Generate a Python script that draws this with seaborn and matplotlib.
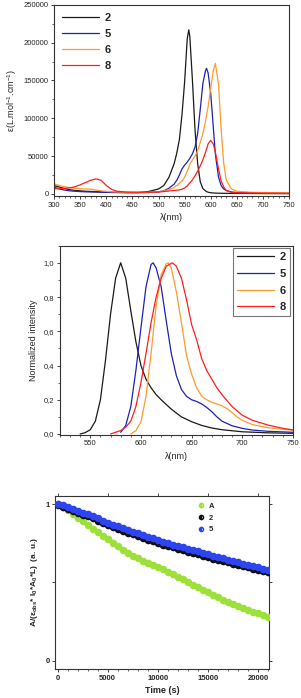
import numpy as np
import matplotlib
matplotlib.use('Agg')
import matplotlib.pyplot as plt
from matplotlib.ticker import MultipleLocator, FixedLocator
import seaborn as sns

# absorption spectra (top)
wl_abs = [300, 310, 320, 330, 340, 350, 360, 370, 380, 390, 400, 410, 420, 440, 460, 480,
          500, 510, 520, 530, 535, 540, 545, 550, 555, 558, 560, 565, 570, 575, 580, 585,
          590, 592, 595, 600, 605, 609, 615, 620, 625, 630, 640, 650, 675, 700, 750]
eps_2 = [11000, 9000, 7000, 5500, 4500, 4000, 3500, 3200, 3000, 2700, 2500, 2300, 2100, 1800, 1800, 3000,
         6500, 11000, 22000, 40000, 54000, 72000, 105000, 148000, 205000, 217000, 208000, 150000, 84000, 40000, 16000, 7000,
         4000, 3000, 2200, 1500, 1200, 1000, 900, 800, 700, 700, 600, 600, 500, 400, 300]
eps_5 = [8800, 6500, 5000, 4000, 3500, 3000, 2700, 2500, 2300, 2100, 2000, 1800, 1700, 1500, 1500, 1800,
         2500, 4000, 7500, 13000, 18000, 25000, 33000, 38000, 42000, 45000, 47000, 53000, 62000, 80000, 112000, 146000,
         163000, 166000, 160000, 133000, 88000, 52000, 22000, 11000, 6500, 4400, 2500, 1800, 1200, 900, 600]
eps_6 = [13300, 11000, 9500, 8200, 7300, 6800, 6500, 6200, 5000, 4000, 3300, 2800, 2500, 2200, 2000, 2000,
         2800, 3800, 5500, 8500, 11000, 14000, 17000, 22000, 30000, 35000, 39000, 45000, 50000, 57000, 68000, 80000,
         96000, 104000, 115000, 140000, 163000, 172500, 145000, 85000, 40000, 18000, 6500, 3500, 2200, 1800, 1200]
eps_8 = [6600, 7000, 7300, 8000, 9500, 12000, 15000, 18000, 19800, 18000, 11000, 6000, 3500, 2300, 2100, 2100,
         2500, 3000, 3800, 4500, 4900, 5200, 6200, 7800, 10500, 13000, 14500, 18500, 24000, 30000, 37000, 45000,
         55000, 59000, 66000, 70700, 66000, 55000, 33000, 17000, 9000, 4500, 2000, 1500, 1200, 1000, 800]

# emission spectra (middle)
wl_em_2 = [540, 545, 550, 555, 560, 565, 570, 575, 580, 585, 590, 595, 600, 605, 610, 615, 620,
           630, 640, 650, 660, 670, 680, 700, 725, 750]
em_2 = [0.0, 0.008, 0.025, 0.075, 0.20, 0.43, 0.70, 0.91, 1.0, 0.91, 0.72, 0.54, 0.40, 0.32, 0.27, 0.23, 0.20,
        0.145, 0.10, 0.072, 0.05, 0.035, 0.025, 0.013, 0.007, 0.004]
wl_em_5 = [580, 585, 590, 595, 600, 605, 610, 612, 615, 620, 625, 630, 635, 640, 645, 650, 655, 660,
           665, 670, 675, 680, 690, 700, 710, 725, 750]
em_5 = [0.01, 0.05, 0.16, 0.37, 0.62, 0.86, 0.99, 1.0, 0.97, 0.86, 0.66, 0.47, 0.34, 0.26, 0.22, 0.20, 0.19, 0.175,
        0.155, 0.13, 0.10, 0.075, 0.048, 0.033, 0.023, 0.016, 0.01]
wl_em_6 = [590, 595, 600, 605, 610, 615, 620, 625, 627, 630, 635, 640, 645, 650, 655, 660, 665, 670,
           675, 680, 685, 690, 695, 700, 710, 725, 750]
em_6 = [0.0, 0.02, 0.07, 0.22, 0.47, 0.75, 0.93, 0.995, 1.0, 0.97, 0.83, 0.65, 0.46, 0.35, 0.27, 0.22, 0.20, 0.185,
        0.175, 0.165, 0.148, 0.125, 0.10, 0.08, 0.055, 0.037, 0.022]
wl_em_8 = [570, 575, 580, 585, 590, 595, 600, 605, 610, 615, 620, 625, 631, 635, 640, 645, 650, 655,
           660, 665, 670, 675, 680, 690, 700, 710, 725, 740, 750]
em_8 = [0.0, 0.01, 0.02, 0.04, 0.075, 0.16, 0.30, 0.47, 0.65, 0.80, 0.91, 0.98, 1.0, 0.98, 0.91, 0.785, 0.64, 0.55,
        0.44, 0.37, 0.32, 0.27, 0.23, 0.16, 0.11, 0.08, 0.053, 0.033, 0.024]

# photodegradation (bottom)
time_s = list(range(0, 21001, 500))
deg_A = [1.000, 0.980, 0.960, 0.938, 0.915, 0.892, 0.866, 0.843, 0.820, 0.797, 0.775, 0.753, 0.732, 0.710,
         0.690, 0.672, 0.655, 0.638, 0.622, 0.610, 0.598, 0.584, 0.568, 0.553, 0.537, 0.521, 0.503, 0.486,
         0.470, 0.454, 0.438, 0.422, 0.406, 0.390, 0.374, 0.360, 0.347, 0.335, 0.323, 0.312, 0.302, 0.291, 0.280]
deg_2 = [0.992, 0.982, 0.971, 0.958, 0.946, 0.934, 0.922, 0.909, 0.895, 0.882, 0.869, 0.856, 0.843, 0.831,
         0.819, 0.807, 0.795, 0.784, 0.773, 0.763, 0.752, 0.742, 0.733, 0.724, 0.715, 0.706, 0.697, 0.689,
         0.680, 0.671, 0.662, 0.653, 0.645, 0.637, 0.628, 0.620, 0.612, 0.604, 0.596, 0.588, 0.580, 0.572, 0.564]
deg_5 = [1.000, 0.992, 0.982, 0.970, 0.957, 0.945, 0.935, 0.922, 0.909, 0.896, 0.883, 0.870, 0.860, 0.849,
         0.837, 0.825, 0.813, 0.802, 0.792, 0.782, 0.770, 0.760, 0.751, 0.742, 0.734, 0.726, 0.717, 0.709,
         0.700, 0.691, 0.682, 0.672, 0.663, 0.655, 0.646, 0.638, 0.629, 0.621, 0.613, 0.605, 0.597, 0.589, 0.580]

labels = ['2', '5', '6', '8']
colors = ['#1a1a1a', '#1e22b4', '#ff9a2e', '#ff1e1e']

sns.set_style('ticks')
plt.rcParams['font.family'] = ['Liberation Sans', 'DejaVu Sans']
plt.rcParams['mathtext.default'] = 'regular'
plt.rcParams['axes.linewidth'] = 0.8
plt.rcParams['axes.edgecolor'] = '#333333'

fig = plt.figure(figsize=(3.01, 6.98), dpi=100)

# ---- top panel
ax1 = fig.add_axes([0.180, 0.719, 0.780, 0.274])
for wl_y, lab, c in zip([eps_2, eps_5, eps_6, eps_8], labels, colors):
    sns.lineplot(x=wl_abs, y=wl_y, color=c, label=lab, lw=0.9, ax=ax1)
ax1.set_xlim(300, 750)
ax1.set_ylim(-3000, 250000)
ax1.xaxis.set_major_locator(MultipleLocator(50))
ax1.xaxis.set_minor_locator(MultipleLocator(10))
ax1.yaxis.set_major_locator(MultipleLocator(50000))
ax1.yaxis.set_minor_locator(MultipleLocator(25000))
ax1.tick_params(labelsize=5.5, length=2.5, width=0.6, pad=1.5)
ax1.tick_params(which='minor', length=1.5, width=0.5)
ax1.set_xlabel('λ(nm)', fontsize=6.5, labelpad=3)
ax1.set_ylabel(r'ε(L.mol$^{-1}$.cm$^{-1}$)', fontsize=6.5, labelpad=3)
ax1.legend(loc='upper left', frameon=False, handlelength=3.3, handletextpad=0.5,
           labelspacing=0.55, borderaxespad=0.3, prop={'size': 8, 'weight': 'bold'})

# ---- middle panel
ax2 = fig.add_axes([0.199, 0.377, 0.774, 0.271])
for xs, ys, lab, c in zip([wl_em_2, wl_em_5, wl_em_6, wl_em_8], [em_2, em_5, em_6, em_8], labels, colors):
    sns.lineplot(x=xs, y=ys, color=c, label=lab, lw=0.9, ax=ax2)
ax2.set_xlim(520, 750)
ax2.set_ylim(-0.005, 1.1)
ax2.xaxis.set_major_locator(MultipleLocator(50))
ax2.xaxis.set_minor_locator(MultipleLocator(10))
ax2.yaxis.set_major_locator(FixedLocator([0, 0.2, 0.4, 0.6, 0.8, 1.0]))
ax2.yaxis.set_minor_locator(MultipleLocator(0.1))
ax2.set_yticklabels(['0,0', '0,2', '0,4', '0,6', '0,8', '1,0'])
ax2.tick_params(labelsize=5.5, length=2.5, width=0.6, pad=1.5)
ax2.tick_params(which='minor', length=1.5, width=0.5)
ax2.set_xlabel('λ(nm)', fontsize=6.5, labelpad=3)
ax2.set_ylabel('Normalized intensity', fontsize=6.5, labelpad=4)
leg2 = ax2.legend(loc='upper right', frameon=True, fancybox=False, handlelength=3.4,
                  handletextpad=0.5, labelspacing=0.6, borderaxespad=0.25, borderpad=0.35,
                  prop={'size': 8, 'weight': 'bold'})
leg2.get_frame().set_edgecolor('#555555')
leg2.get_frame().set_linewidth(0.8)

# ---- bottom panel
ax3 = fig.add_axes([0.183, 0.0415, 0.711, 0.248])
sns.scatterplot(x=time_s, y=deg_A, color='#9ee03a', s=30, linewidth=0, marker='o', ax=ax3, zorder=3)
sns.scatterplot(x=time_s, y=deg_2, color='#111111', s=30, linewidth=0, marker='o', ax=ax3, zorder=3)
sns.scatterplot(x=time_s, y=deg_5, color='#2c45f0', s=30, linewidth=0, marker='o', ax=ax3, zorder=4)
ax3.set_xlim(-250, 21100)
ax3.set_ylim(-0.053, 1.053)
ax3.xaxis.set_major_locator(MultipleLocator(5000))
ax3.xaxis.set_minor_locator(MultipleLocator(1000))
ax3.yaxis.set_major_locator(FixedLocator([0, 0.5, 1]))
ax3.set_yticklabels(['0', '', '1'])
ax3.tick_params(labelsize=5.5, length=2.5, width=0.6, pad=1.5, top=True, right=True)
ax3.tick_params(which='minor', length=1.3, width=0.5, top=False)
for t in ax3.get_xticklabels() + ax3.get_yticklabels():
    t.set_fontweight('bold')
ax3.set_xlabel('Time (s)', fontsize=6.5, fontweight='bold', labelpad=3)
ax3.set_ylabel(r'A/($ε_{obs}$* I$_0$*A$_0$*L)  (a. u.)', fontsize=6, fontweight='bold', labelpad=4)
h = [plt.Line2D([], [], ls='', marker='o', ms=3, mec=c, mfc=c, mfcalt='white', fillstyle='left')
     for c in ['#9ee03a', '#111111', '#2c45f0']]
ax3.legend(h, ['A', '2', '5'], loc='upper left', bbox_to_anchor=(0.63, 1.0), frameon=False,
           handlelength=1.0, handletextpad=0.6, labelspacing=0.55,
           prop={'size': 5.5, 'weight': 'bold'})

fig.savefig('out.png', dpi=100)
